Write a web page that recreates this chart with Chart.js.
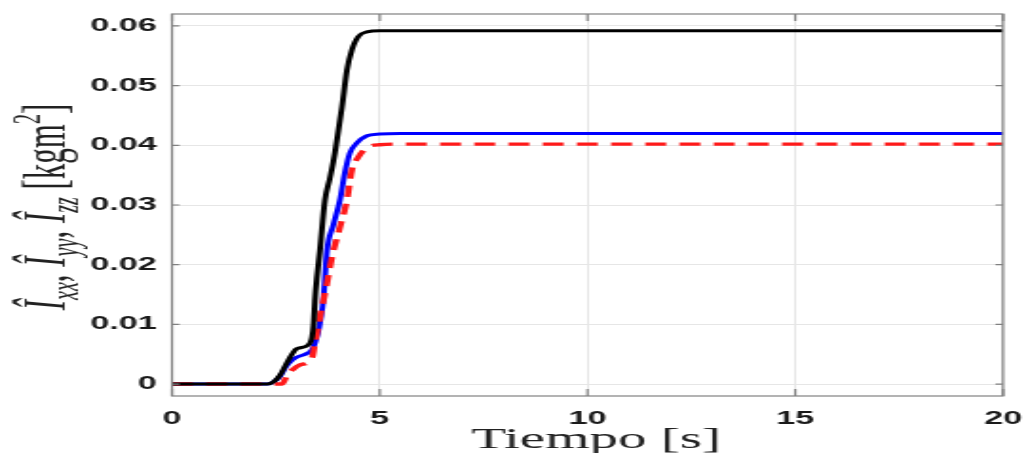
<!DOCTYPE html>
<html>
<head>
<meta charset="utf-8">
<script src="https://cdn.jsdelivr.net/npm/chart.js@4.4.1/dist/chart.umd.min.js"></script>
<style>
	html, body { margin: 0; padding: 0; background: #fff; overflow: hidden; }
	/* the source figure is stretched sideways, so draw narrow and stretch it */
	#wrap { width: 540px; height: 453px; transform: scaleX(1.9); transform-origin: 0 0; }
</style>
</head>
<body>
<div id="wrap"><canvas id="chart"></canvas></div>
<script>
// --- Data ---
const tBlack = [0, 2.3, 2.45, 2.6, 2.8, 3.0, 3.27, 3.37, 3.41, 3.44, 3.49, 3.56, 3.68, 3.8, 3.92, 4.09, 4.21, 4.33, 4.48, 4.69, 5.0, 5.5, 20];
const iBlack = [0, 0, 0.0004, 0.0015, 0.004, 0.0059, 0.0065, 0.0079, 0.0102, 0.014, 0.018, 0.0224, 0.0308, 0.0345, 0.0387, 0.0464, 0.0526, 0.056, 0.0582, 0.059, 0.0592, 0.0592, 0.0592];

const tBlue = [0, 2.3, 2.45, 2.6, 2.75, 2.89, 3.0, 3.27, 3.39, 3.51, 3.58, 3.64, 3.73, 3.88, 4.04, 4.16, 4.28, 4.45, 4.69, 5.0, 5.5, 20];
const iBlue = [0, 0, 0.0004, 0.0013, 0.003, 0.004, 0.0045, 0.0052, 0.006, 0.0085, 0.011, 0.014, 0.0224, 0.0266, 0.0308, 0.0354, 0.0387, 0.0404, 0.0416, 0.0419, 0.042, 0.042];

const tRed = [0, 2.3, 2.65, 2.77, 2.9, 3.08, 3.37, 3.44, 3.56, 3.73, 3.85, 4.03, 4.21, 4.33, 4.48, 4.69, 5.0, 5.5, 20];
const iRed = [0, 0, 0, 0.0015, 0.0024, 0.0032, 0.0044, 0.0069, 0.0112, 0.0169, 0.0213, 0.026, 0.0308, 0.0359, 0.038, 0.0396, 0.0401, 0.0402, 0.0402];

const xTicks = [0, 5, 10, 15, 20];
const yTicks = [0, 0.01, 0.02, 0.03, 0.04, 0.05, 0.06];
const xTitle = "Tiempo [s]";

// --- Helpers ---
const SX = 1.9; // horizontal stretch of the page
const toPoints = (ts, vs) => ts.map((t, i) => ({ x: t, y: vs[i] }));
const BOX = "#808080";

function lineSet(data, color, width, order, dash) {
	return {
		data: data,
		borderColor: color,
		borderWidth: width,
		borderDash: dash || [],
		pointRadius: 0,
		fill: false,
		cubicInterpolationMode: "monotone",
		order: order,
	};
}

// y label pieces: text, style (0 normal, 1 italic), shift (0 base, 1 sub, -1 sup)
const yLabelParts = [
	["Î", 1, 0], ["xx", 1, 1], [", ", 0, 0],
	["Î", 1, 0], ["yy", 1, 1], [", ", 0, 0],
	["Î", 1, 0], ["zz", 1, 1], [" [kgm", 0, 0], ["2", 0, -1], ["]", 0, 0],
];

const decorPlugin = {
	id: "decor",
	afterDraw(chart) {
		const { ctx, chartArea: a } = chart;
		const xs = chart.scales.x, ys = chart.scales.y;
		ctx.save();
		// box and inward ticks
		ctx.strokeStyle = BOX;
		ctx.lineWidth = 1.2;
		ctx.strokeRect(a.left, a.top, a.right - a.left, a.bottom - a.top);
		ctx.beginPath();
		yTicks.forEach((v) => {
			const y = ys.getPixelForValue(v);
			ctx.moveTo(a.left, y); ctx.lineTo(a.left + 4, y);
			ctx.moveTo(a.right, y); ctx.lineTo(a.right - 4, y);
		});
		xTicks.forEach((v) => {
			const x = xs.getPixelForValue(v);
			ctx.moveTo(x, a.bottom); ctx.lineTo(x, a.bottom - 7);
			ctx.moveTo(x, a.top); ctx.lineTo(x, a.top + 7);
		});
		ctx.stroke();

		// x title
		ctx.fillStyle = "#222";
		ctx.font = "30px 'Liberation Serif'";
		ctx.textAlign = "center";
		ctx.textBaseline = "alphabetic";
		ctx.fillText(xTitle, 596 / SX, 448);

		// y title, rotated, with sub/superscripts
		const F = 31;
		const fontFor = (p) => {
			const size = p[2] === 0 ? F : Math.round(F * 0.66);
			return (p[1] ? "italic " : "") + size + "px 'Liberation Serif'";
		};
		let total = 0;
		yLabelParts.forEach((p) => { ctx.font = fontFor(p); total += ctx.measureText(p[0]).width; });
		ctx.translate(64 / SX, 207);
		ctx.rotate(-Math.PI / 2);
		ctx.textAlign = "left";
		let cx = -total / 2;
		yLabelParts.forEach((p) => {
			ctx.font = fontFor(p);
			const dy = p[2] === 1 ? F * 0.22 : p[2] === -1 ? -F * 0.42 : 0;
			ctx.fillText(p[0], cx, dy);
			cx += ctx.measureText(p[0]).width;
		});
		ctx.restore();
	},
};

new Chart(document.getElementById("chart"), {
	type: "line",
	data: {
		datasets: [
			lineSet(toPoints(tBlack, iBlack), "#000000", 3, 0),
			lineSet(toPoints(tRed, iRed), "#ff1a1a", 3.4, 1, [11, 7]),
			lineSet(toPoints(tBlue, iBlue), "#0000ff", 3, 2),
		],
	},
	options: {
		responsive: true,
		maintainAspectRatio: false,
		animation: false,
		devicePixelRatio: 1,
		layout: { padding: { left: 0, right: 540 - 1003 / SX, top: 14, bottom: 0 } },
		plugins: { legend: { display: false }, tooltip: { enabled: false } },
		scales: {
			x: {
				type: "linear",
				min: 0,
				max: 20,
				afterBuildTicks: (s) => { s.ticks = xTicks.map((v) => ({ value: v })); },
				afterFit: (s) => { s.height = 453 - 396; s.paddingLeft = 0; s.paddingRight = 0; },
				grid: { color: "#e6e6e6", lineWidth: 1, drawTicks: false },
				border: { display: false },
				ticks: {
					padding: 12,
					color: "#1a1a1a",
					maxRotation: 0,
					font: { family: "'Liberation Sans'", size: 18, weight: "bold" },
				},
			},
			y: {
				type: "linear",
				min: -0.002,
				max: 0.062,
				afterBuildTicks: (s) => { s.ticks = yTicks.map((v) => ({ value: v })); },
				afterFit: (s) => { s.width = 172 / SX; s.paddingTop = 0; s.paddingBottom = 0; },
				grid: { color: "#e6e6e6", lineWidth: 1, drawTicks: false },
				border: { display: false },
				ticks: {
					padding: 8,
					color: "#1a1a1a",
					font: { family: "'Liberation Sans'", size: 18, weight: "bold" },
					callback: (v) => (v === 0 ? "0" : v.toFixed(2)),
				},
			},
		},
	},
	plugins: [decorPlugin],
});
</script>
</body>
</html>
